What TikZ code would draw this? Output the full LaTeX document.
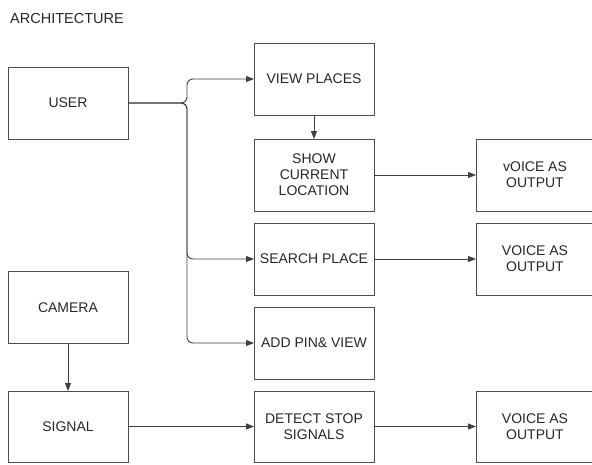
\documentclass[tikz,border=0pt]{standalone}
\usepackage{fontspec}
\setmainfont{Liberation Sans}
\usetikzlibrary{arrows.meta,positioning}

\begin{document}
\begin{tikzpicture}[x=1pt, y=-1pt,
    box/.style={draw=black!70, line width=0.9pt, align=center, minimum width=120pt,
      minimum height=72pt, inner sep=2pt, outer sep=0pt, text=black!85,
      font=\fontsize{14}{16}\selectfont},
    lowbox/.style={box, minimum height=71pt},
    outbox/.style={box, minimum width=118pt},
    arrow/.style={-{Triangle[length=8pt,width=6pt]}, line width=0.9pt, draw=black!75}
  ]
    \useasboundingbox (0,0) rectangle (592,464);
    \node[anchor=west, inner sep=0pt, text=black!85,
      font=\fontsize{14.5}{16}\selectfont] (title) at (10,19) {ARCHITECTURE};

    \node[box] (user) at (68,103) {USER};
    \node[box] (camera) at (68,307.5) {CAMERA};
    \node[lowbox] (signal) at (68,426.5) {SIGNAL};

    \node[box] (view) at (314,79) {VIEW PLACES};
    \node[box, below=24pt of view] (show) {SHOW\\CURRENT\\LOCATION};
    \node[box, below=12pt of show] (search) {SEARCH PLACE};
    \node[box, below=12pt of search] (add) {ADD PIN\& VIEW};
    \node[lowbox, below=12pt of add] (detect) {DETECT STOP\\SIGNALS};

    \node[outbox, right=102pt of show] (voicea) {vOICE AS\\OUTPUT};
    \node[outbox, right=102pt of search] (voiceb) {VOICE AS\\OUTPUT};
    \node[lowbox, minimum width=118pt, right=102pt of detect] (voicec) {VOICE AS\\OUTPUT};

    \coordinate (trunk) at (187,103);

    \draw[arrow, rounded corners=6pt] (user.east) -- (trunk) |- (view.west);
    \draw[arrow, rounded corners=6pt] (user.east) -- (trunk) |- (search.west);
    \draw[arrow, rounded corners=6pt] (user.east) -- (trunk) |- (add.west);
    \draw[arrow] (view) -- (show);
    \draw[arrow] (show) -- (voicea);
    \draw[arrow] (search) -- (voiceb);
    \draw[arrow] (camera) -- (signal);
    \draw[arrow] (signal) -- (signal -| detect.west);
    \draw[arrow] (detect) -- (voicec);
  \end{tikzpicture}
\end{document}
